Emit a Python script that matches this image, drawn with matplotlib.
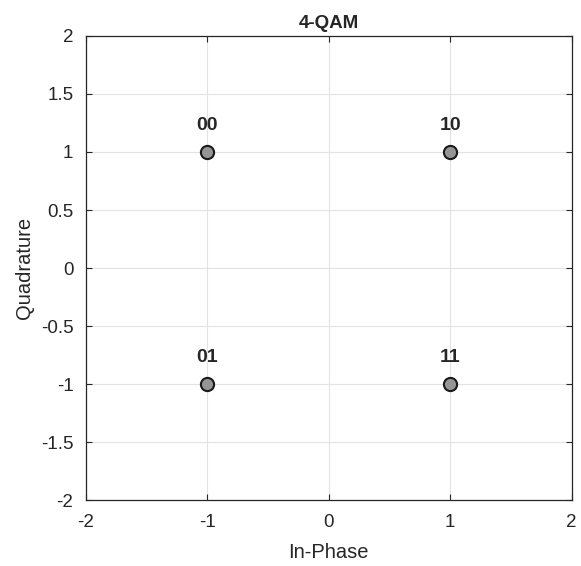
import matplotlib
matplotlib.use("Agg")
import matplotlib.pyplot as plt

# 4-QAM constellation
in_phase = [-1, 1, -1, 1]
quadrature = [1, 1, -1, -1]
bits = ["00", "10", "01", "11"]

ticks = [-2, -1.5, -1, -0.5, 0, 0.5, 1, 1.5, 2]
tick_labels = ["-2", "-1.5", "-1", "-0.5", "0", "0.5", "1", "1.5", "2"]
xticks = [-2, -1, 0, 1, 2]
xtick_labels = ["-2", "-1", "0", "1", "2"]

plt.rcParams['font.family'] = ['Liberation Sans', 'DejaVu Sans']
dark = '#262626'

fig = plt.figure(figsize=(5.81, 5.66), dpi=100)
ax = fig.add_axes([0.148, 0.1166, 0.836, 0.8198])

ax.plot(in_phase, quadrature, 'o', markersize=9.5, markerfacecolor='#959595',
        markeredgecolor='#1a1a1a', markeredgewidth=1.5, zorder=3)
for x, y, b in zip(in_phase, quadrature, bits):
    ax.text(x, y + 0.23, b, ha='center', va='center', fontsize=14,
            fontweight='bold', color=dark)

ax.set_xlim(-2, 2)
ax.set_ylim(-2, 2)
ax.set_xticks(xticks)
ax.set_xticklabels(xtick_labels)
ax.set_yticks(ticks)
ax.set_yticklabels(tick_labels)
ax.tick_params(direction='in', length=4, colors=dark, labelsize=13.5,
               top=True, right=True, width=0.8)
ax.tick_params(axis='x', pad=10)
ax.tick_params(axis='y', pad=9)
for s in ax.spines.values():
    s.set_color(dark)
    s.set_linewidth(0.9)
ax.grid(True, color='#e3e3e3', linewidth=0.8)
ax.set_axisbelow(True)

ax.set_xlabel("In-Phase", fontsize=14.5, color=dark, labelpad=9)
ax.set_ylabel("Quadrature", fontsize=14.5, color=dark, labelpad=5)
ax.set_title("4-QAM", fontsize=13.5, fontweight='bold', color=dark, pad=6)

fig.savefig("out.png", dpi=100)
